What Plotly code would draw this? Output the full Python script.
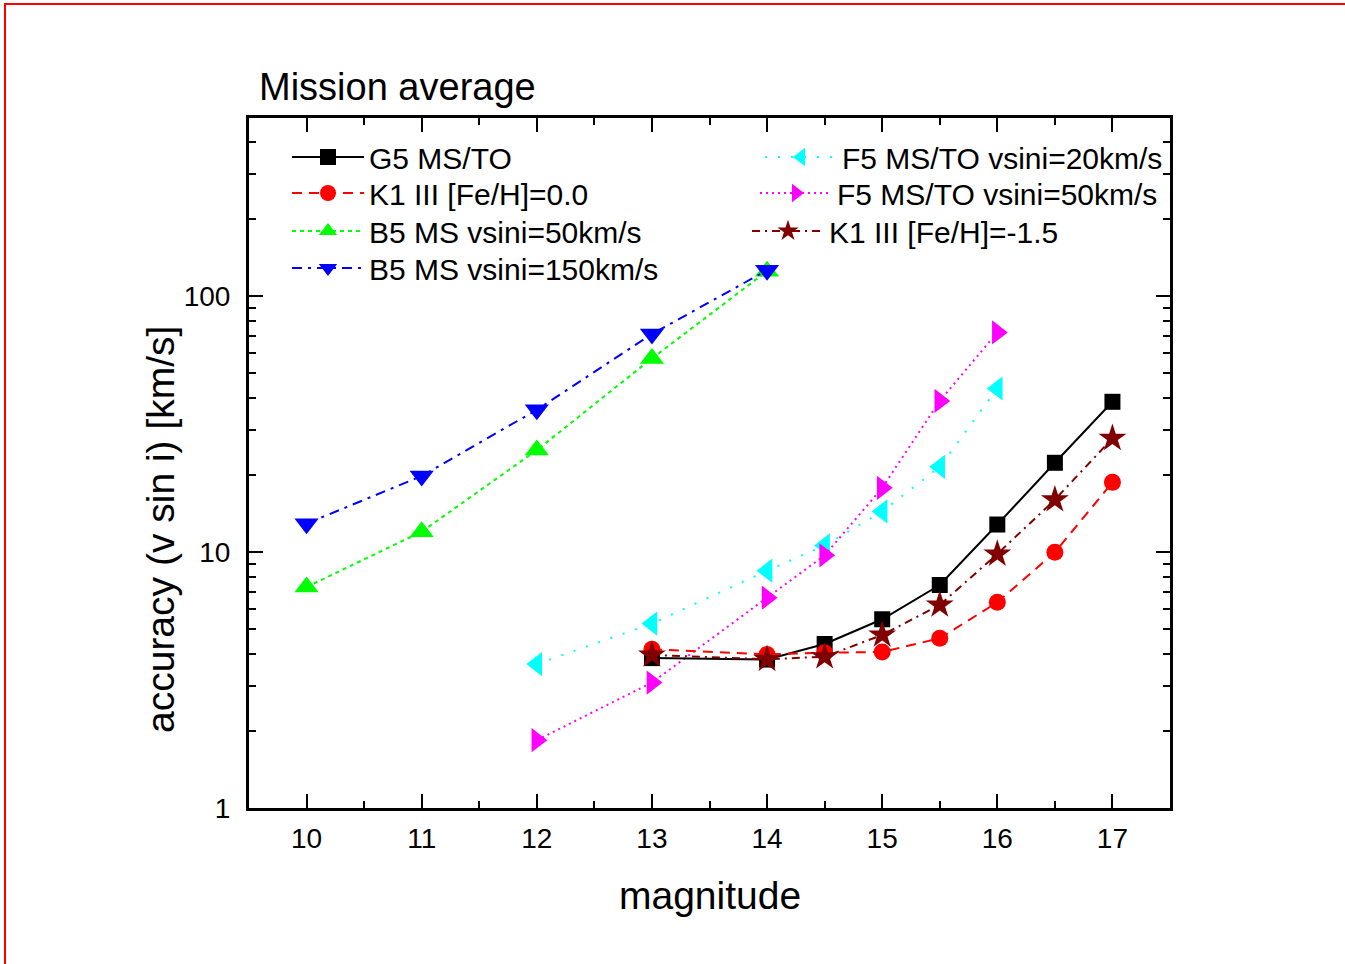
import plotly.graph_objects as go

# ---- data ----
mag_b5 = [10, 11, 12, 13, 14]
b5_50 = [7.3, 12.0, 25.0, 57.0, 125]
b5_150 = [12.9, 19.8, 35.9, 71.0, 126]

mag_f5 = [12, 13, 14, 14.5, 15, 15.5, 16]
f5_20 = [3.65, 5.25, 8.45, 10.6, 14.4, 21.5, 43.5]
f5_50 = [1.84, 3.09, 6.63, 9.7, 17.8, 38.9, 72.0]

mag_late = [13, 14, 14.5, 15, 15.5, 16, 16.5, 17]
g5 = [3.85, 3.8, 4.37, 5.46, 7.43, 12.8, 22.3, 38.6]
k1_0 = [4.17, 3.98, 4.04, 4.07, 4.6, 6.36, 9.97, 18.7]
k1_m15 = [3.96, 3.81, 3.9, 4.74, 6.21, 9.82, 16.0, 27.8]

x_ticks = [10, 11, 12, 13, 14, 15, 16, 17]
x_minor = [10.5, 11.5, 12.5, 13.5, 14.5, 15.5, 16.5]
y_ticks = [1, 10, 100]
y_ticktext = ["1", "10", "100"]
y_minor = [2, 3, 4, 5, 6, 7, 8, 9, 20, 30, 40, 50, 60, 70, 80, 90, 200, 300, 400]

FONT = "Liberation Sans, Arial, sans-serif"

W, H = 1345, 964
L, R, T, B = 249, 1170, 118, 808
pw, ph = R - L, B - T


def px(xp):
    return (xp - L) / pw


def py(yp):
    return (B - yp) / ph


fig = go.Figure()
legends = {}
ITEMW = 72
LEG_FONT = 30


def add(x, y, name, color, dash, symbol, size, legname, text_x, row_y, width=2):
    fig.add_trace(go.Scatter(
        x=x, y=y, name=name, mode="lines+markers",
        line=dict(color=color, dash=dash, width=width),
        marker=dict(color=color, symbol=symbol, size=size, line=dict(width=0)),
        legend=legname,
    ))
    legends[legname] = dict(
        x=px(text_x - ITEMW - 11), y=py(row_y), xanchor="left", yanchor="middle",
        bgcolor="rgba(0,0,0,0)", itemwidth=ITEMW, borderwidth=0,
        font=dict(family=FONT, size=LEG_FONT, color="black"),
    )


add(mag_b5, b5_50, "B5 MS vsini=50km/s", "#00FF00", "4px,4px", "triangle-up", 21, "legend3", 370, 231)
add(mag_b5, b5_150, "B5 MS vsini=150km/s", "#0000FF", "10px,6px,3px,6px", "triangle-down", 21, "legend4", 370, 268)
add(mag_f5, f5_20, "F5 MS/TO vsini=20km/s", "#00FFFF", "2px,11px", "triangle-left", 21, "legend5", 843, 157)
add(mag_f5, f5_50, "F5 MS/TO vsini=50km/s", "#FF00FF", "2px,4px", "triangle-right", 21, "legend6", 838, 193)
add(mag_late, g5, "G5 MS/TO", "#000000", "solid", "square", 16, "legend", 370, 157)
add(mag_late, k1_0, "K1 III [Fe/H]=0.0", "#FF0000", "10px,7px", "circle", 17, "legend2", 370, 193)
add(mag_late, k1_m15, "K1 III [Fe/H]=-1.5", "#800000", "8px,5px,2px,5px", "star", 21, "legend7", 830, 231)

axis_common = dict(
    showline=True, linecolor="black", linewidth=3, mirror="allticks",
    ticks="inside", ticklen=14, tickwidth=2, tickcolor="black",
    showgrid=False, zeroline=False,
    tickfont=dict(family=FONT, size=28, color="black"),
)

fig.update_layout(
    width=W, height=H,
    margin=dict(l=L, r=W - R, t=T, b=H - B),
    paper_bgcolor="white", plot_bgcolor="white",
    font=dict(family=FONT, color="black"),
    xaxis=dict(range=[9.5, 17.5], tickvals=x_ticks, ticklabelstandoff=3,
               minor=dict(tickvals=x_minor, ticks="inside", ticklen=7, tickwidth=2,
                          tickcolor="black", showgrid=False),
               **axis_common),
    yaxis=dict(type="log", range=[0, 2.695], tickvals=y_ticks, ticktext=y_ticktext,
               ticklabelstandoff=10,
               minor=dict(tickvals=y_minor, ticks="inside", ticklen=7, tickwidth=2,
                          tickcolor="black", showgrid=False),
               **axis_common),
    showlegend=True,
    **legends,
)

fig.add_annotation(text="Mission average", xref="paper", yref="paper",
                   x=px(257), y=py(87), xanchor="left", yanchor="middle",
                   showarrow=False, font=dict(family=FONT, size=38, color="black"))
fig.add_annotation(text="magnitude", xref="paper", yref="paper",
                   x=px(710), y=py(895), xanchor="center", yanchor="middle",
                   showarrow=False, font=dict(family=FONT, size=39, color="black"))
fig.add_annotation(text="accuracy (v sin i) [km/s]", xref="paper", yref="paper",
                   x=px(160), y=py(530), xanchor="center", yanchor="middle", textangle=-90,
                   showarrow=False, font=dict(family=FONT, size=39, color="black"))

# red frame (top and left edges of the slide)
fig.add_shape(type="path", xref="paper", yref="paper",
              path=f"M {px(5)} {py(970)} L {px(5)} {py(4)} L {px(1350)} {py(4)}",
              line=dict(color="#FF0000", width=2), layer="above")

fig.write_html(
    "out.html",
    config={"displayModeBar": False},
    post_script="document.body.style.margin='0px';document.body.style.overflow='hidden';",
)
